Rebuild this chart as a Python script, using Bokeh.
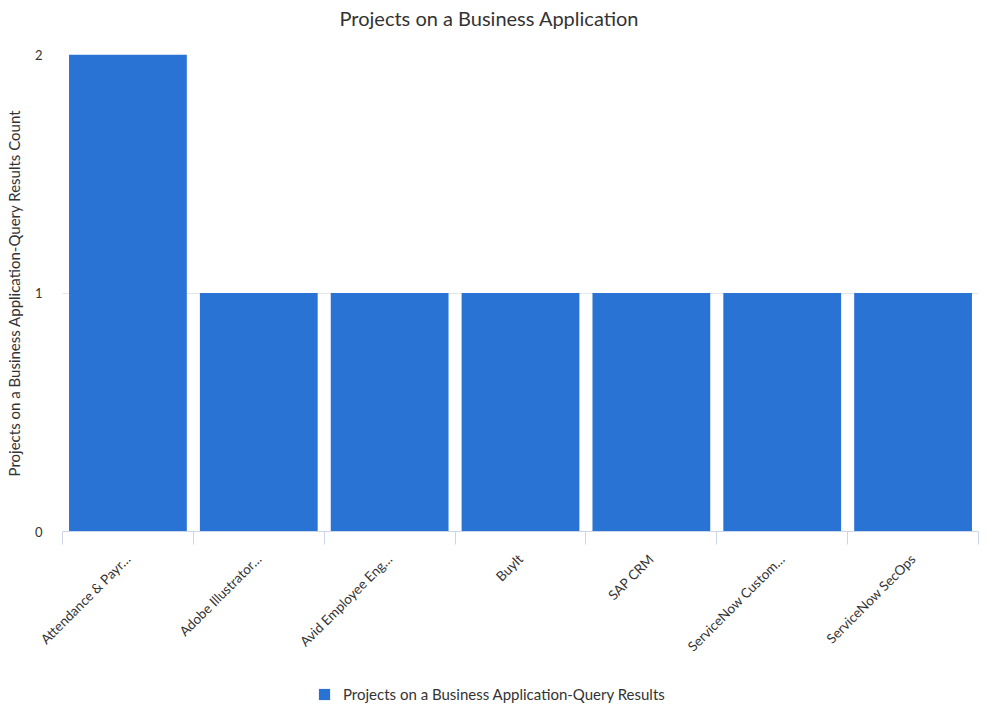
import math
from bokeh.plotting import figure
from bokeh.layouts import column
from bokeh.models import FixedTicker, Legend, LegendItem, ColumnDataSource, Range1d, Label
from bokeh.embed import file_html
from bokeh.resources import INLINE

# ---- data ----
categories = ["Attendance & Payr…", "Adobe Illustrator…", "Avid Employee Eng…",
              "BuyIt", "SAP CRM", "ServiceNow Custom…", "ServiceNow SecOps"]
counts = [2, 1, 1, 1, 1, 1, 1]
y_ticks = [0, 1, 2]
series_name = "Projects on a Business Application-Query Results"
chart_title = "Projects on a Business Application"
y_title = "Projects on a Business Application-Query Results Count"

FONT = "Lato"
TEXT = "#333333"
BAR = "#2873d3"
AXIS = "#ccd6eb"

positions = list(range(1, len(categories) + 1))
boundaries = [p - 0.5 for p in positions] + [positions[-1] + 0.5]

src = ColumnDataSource(dict(x=positions, top=counts, name=categories))

W = 987
H_TITLE = 34
H_MAIN = 629
H_LEG = 42


def strip(height):
    f = figure(width=W, height=height, output_backend="svg", toolbar_location=None,
               x_range=Range1d(0, 1), y_range=Range1d(0, 1),
               x_axis_location=None, y_axis_location=None,
               min_border_left=0, min_border_right=0, min_border_top=0, min_border_bottom=0)
    f.outline_line_color = None
    f.xgrid.visible = False
    f.ygrid.visible = False
    return f


# title strip
top = strip(H_TITLE)
top.add_layout(Label(x=277, y=17, x_units="screen", y_units="screen", text=chart_title,
                     text_font=FONT, text_font_size="20px", text_color=TEXT,
                     text_align="left", text_baseline="middle"))

# main chart
p = figure(width=W, height=H_MAIN, output_backend="svg", toolbar_location=None,
           x_range=Range1d(boundaries[0], boundaries[-1]),
           y_range=Range1d(min(y_ticks), max(y_ticks)),
           min_border_left=62, min_border_right=9, min_border_top=20, min_border_bottom=130)

r = p.vbar(x="x", top="top", bottom=0, width=0.9, source=src,
           fill_color=BAR, line_color=None)

p.outline_line_color = None
p.background_fill_color = "white"

xa = p.xaxis[0]
xa.ticker = FixedTicker(ticks=positions, minor_ticks=boundaries)
xa.major_label_overrides = {pos: lab for pos, lab in zip(positions, categories)}
xa.major_tick_line_color = None
xa.major_tick_out = 0
xa.major_tick_in = 0
xa.minor_tick_out = 13
xa.minor_tick_in = 0
xa.minor_tick_line_color = AXIS
xa.axis_line_color = AXIS
xa.major_label_orientation = math.pi / 4
xa.major_label_standoff = 12
xa.major_label_text_font = FONT
xa.major_label_text_font_size = "13.5px"
xa.major_label_text_color = TEXT

ya = p.yaxis[0]
ya.ticker = FixedTicker(ticks=y_ticks)
ya.axis_line_color = None
ya.major_tick_line_color = None
ya.minor_tick_line_color = None
ya.major_label_text_font = FONT
ya.major_label_text_font_size = "13px"
ya.major_label_text_color = TEXT
ya.major_label_standoff = 14
ya.axis_label = y_title
ya.axis_label_text_font = FONT
ya.axis_label_text_font_size = "15px"
ya.axis_label_text_font_style = "normal"
ya.axis_label_text_color = TEXT
ya.axis_label_standoff = 9

p.xgrid.visible = False
p.ygrid.ticker = FixedTicker(ticks=y_ticks)
p.ygrid.grid_line_color = "#e6e6e6"

# legend strip under the chart
leg = strip(H_LEG)
r_leg = leg.vbar(x="x", top="top", bottom=0, width=0.9, source=src,
                 fill_color=BAR, line_color=None, visible=False)
legend = Legend(items=[LegendItem(label=series_name, renderers=[r_leg])],
                location=(255, 2), orientation="horizontal",
                border_line_color=None, background_fill_alpha=0,
                label_text_font=FONT, label_text_font_size="15px",
                label_text_color=TEXT, glyph_width=14, glyph_height=14,
                padding=0, margin=0, label_standoff=12)
leg.add_layout(legend, "center")

layout = column(top, p, leg, spacing=0)
open("out.html", "w").write(file_html(layout, INLINE))
